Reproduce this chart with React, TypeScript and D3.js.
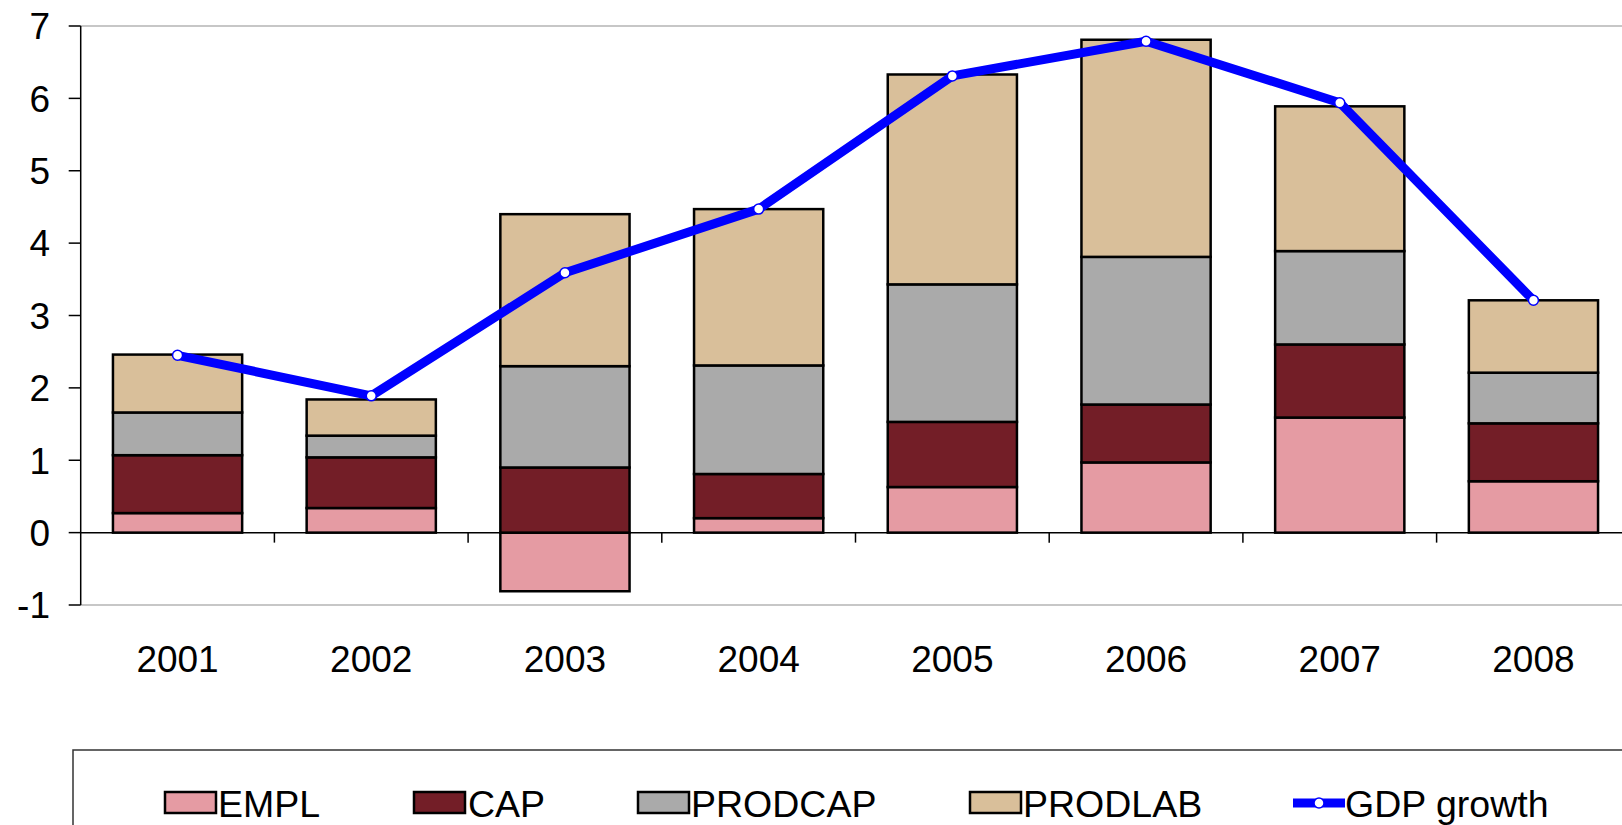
import React, { useEffect } from 'react'
import * as d3 from 'd3'

const years = ['2001', '2002', '2003', '2004', '2005', '2006', '2007', '2008']
const empl = [0.27, 0.34, -0.81, 0.2, 0.63, 0.97, 1.59, 0.71]
const cap = [0.8, 0.7, 0.9, 0.61, 0.9, 0.8, 1.01, 0.8]
const prodcap = [0.59, 0.3, 1.4, 1.5, 1.9, 2.04, 1.29, 0.7]
const prodlab = [0.8, 0.5, 2.1, 2.16, 2.9, 3.0, 2.0, 1.0]
const gdp = [2.45, 1.89, 3.59, 4.47, 6.31, 6.79, 5.94, 3.21]
const seriesNames = ['EMPL', 'CAP', 'PRODCAP', 'PRODLAB']
const seriesColors = ['#E59BA3', '#731E27', '#AAAAAA', '#D9BF9A']
const yTicks = [-1, 0, 1, 2, 3, 4, 5, 6, 7]

const W = 1622
const H = 825
const left = 80.7
const top = 26
const bottom = 605
const band = 193.7
const font = '"Liberation Sans", Arial, sans-serif'

const App = () => {
  useEffect(() => {
    document.body.style.margin = '0'
  }, [])

  const x = d3.scaleBand().domain(years).range([left, left + band * years.length]).paddingInner(0.333).paddingOuter(0.1665)
  const y = d3.scaleLinear().domain([-1, 7]).range([bottom, top])

  const rows = years.map((yr, i) => ({ year: yr, EMPL: empl[i], CAP: cap[i], PRODCAP: prodcap[i], PRODLAB: prodlab[i] }))
  const stacked = d3.stack<any>().keys(seriesNames).offset(d3.stackOffsetDiverging)(rows)

  const line = d3.line<number>()
    .x((_, i) => (x(years[i]) as number) + x.bandwidth() / 2)
    .y(d => y(d))

  const legendItems = [
    { name: 'EMPL', sx: 165, tx: 218 },
    { name: 'CAP', sx: 414, tx: 468 },
    { name: 'PRODCAP', sx: 638, tx: 691 },
    { name: 'PRODLAB', sx: 970, tx: 1023 },
  ]
  const legendY = 803

  return (
    <svg width={W} height={H} style={{ display: 'block', background: '#fff' }} fontFamily={font}>
      {/* plot frame */}
      <line x1={left} x2={W} y1={y(7)} y2={y(7)} stroke="#b5b5b5" strokeWidth={1.5} />
      <line x1={left} x2={W} y1={y(-1)} y2={y(-1)} stroke="#b5b5b5" strokeWidth={1.5} />

      {/* bars */}
      {stacked.map((s, si) => (
        <g key={s.key}>
          {s.map((d, i) => (
            <rect key={i}
              x={x(years[i])}
              y={y(Math.max(d[0], d[1]))}
              width={x.bandwidth()}
              height={Math.abs(y(d[0]) - y(d[1]))}
              fill={seriesColors[si]}
              stroke="#000"
              strokeWidth={2.5} />
          ))}
        </g>
      ))}

      {/* y axis */}
      <line x1={left} x2={left} y1={y(7)} y2={y(-1)} stroke="#000" strokeWidth={1.5} />
      {yTicks.map(t => (
        <g key={t}>
          <line x1={left - 12} x2={left} y1={y(t)} y2={y(t)} stroke="#000" strokeWidth={1.5} />
          <text x={50} y={y(t)} dy="0.36em" textAnchor="end" fontSize={37} fill="#000">{t}</text>
        </g>
      ))}

      {/* x axis at zero */}
      <line x1={left} x2={W} y1={y(0)} y2={y(0)} stroke="#000" strokeWidth={1.5} />
      {years.map((yr, i) => (
        <g key={yr}>
          {i > 0 && <line x1={left + band * i} x2={left + band * i} y1={y(0)} y2={y(0) + 10} stroke="#000" strokeWidth={1.5} />}
          <text x={(x(yr) as number) + x.bandwidth() / 2} y={659} dy="0.36em" textAnchor="middle" fontSize={37} fill="#000">{yr}</text>
        </g>
      ))}

      {/* GDP line */}
      <path d={line(gdp) || ''} fill="none" stroke="#0000FF" strokeWidth={9} strokeLinejoin="round" />
      {gdp.map((g, i) => (
        <circle key={i} cx={(x(years[i]) as number) + x.bandwidth() / 2} cy={y(g)} r={5} fill="#fff" stroke="#0000FF" strokeWidth={1.5} />
      ))}

      {/* legend */}
      <rect x={73} y={750} width={W} height={H} fill="#fff" stroke="#333" strokeWidth={1.5} />
      {legendItems.map((l, i) => (
        <g key={l.name}>
          <rect x={l.sx} y={legendY - 11} width={51} height={21} fill={seriesColors[i]} stroke="#000" strokeWidth={2.5} />
          <text x={l.tx} y={legendY} dy="0.36em" fontSize={37.5} fill="#000">{l.name}</text>
        </g>
      ))}
      <line x1={1293} x2={1345} y1={legendY} y2={legendY} stroke="#0000FF" strokeWidth={9} />
      <circle cx={1319} cy={legendY} r={5} fill="#fff" stroke="#0000FF" strokeWidth={1.5} />
      <text x={1345} y={legendY} dy="0.36em" fontSize={37.5} fill="#000">GDP growth</text>
    </svg>
  )
}

export default App
